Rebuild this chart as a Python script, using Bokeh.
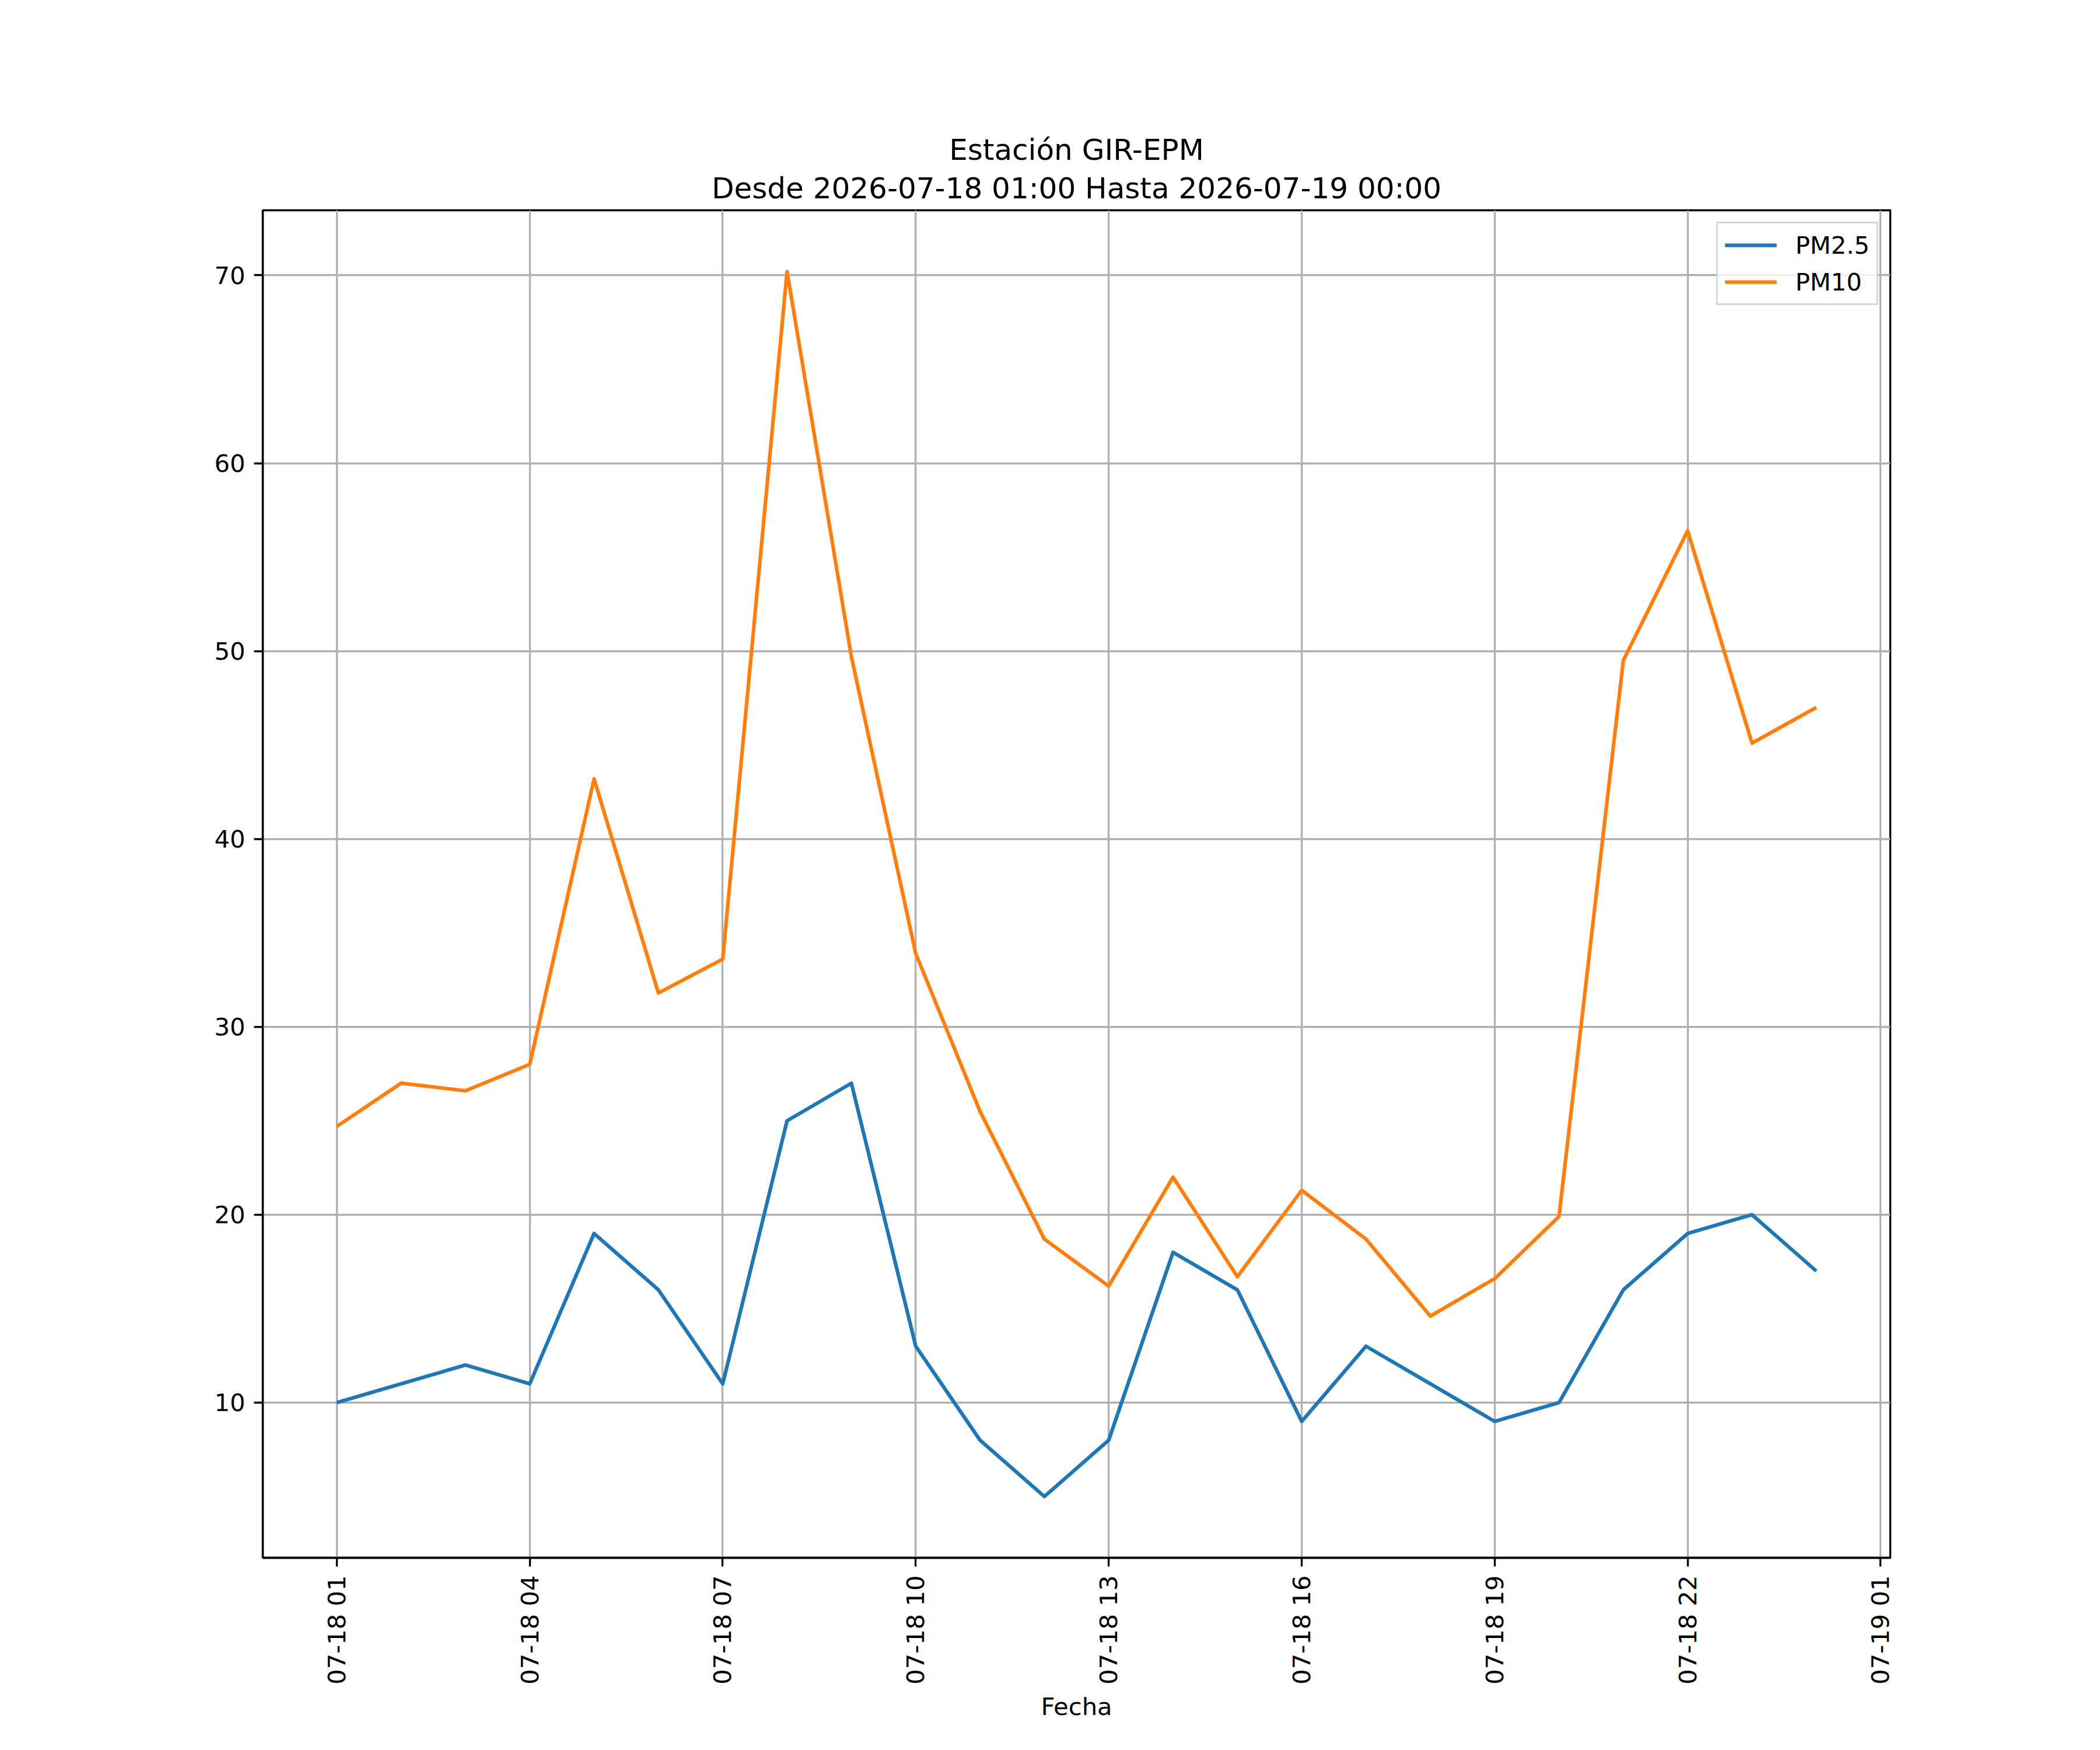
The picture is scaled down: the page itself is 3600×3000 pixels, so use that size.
import pandas as pd
from bokeh.plotting import figure
from bokeh.models import Range1d, FixedTicker, DatetimeTickFormatter, Title
from bokeh.embed import file_html
from bokeh.resources import INLINE

times = [
    "2026-07-18 01:00", "2026-07-18 02:00", "2026-07-18 03:00", "2026-07-18 04:00",
    "2026-07-18 05:00", "2026-07-18 06:00", "2026-07-18 07:00", "2026-07-18 08:00",
    "2026-07-18 09:00", "2026-07-18 10:00", "2026-07-18 11:00", "2026-07-18 12:00",
    "2026-07-18 13:00", "2026-07-18 14:00", "2026-07-18 15:00", "2026-07-18 16:00",
    "2026-07-18 17:00", "2026-07-18 18:00", "2026-07-18 19:00", "2026-07-18 20:00",
    "2026-07-18 21:00", "2026-07-18 22:00", "2026-07-18 23:00", "2026-07-19 00:00",
]
pm25 = [10, 11, 12, 11, 19, 16, 11, 25, 27, 13, 8, 5, 8, 18, 16, 9, 13, 11, 9, 10, 16, 19, 20, 17]
pm10 = [24.7, 27.0, 26.6, 28.0, 43.2, 31.8, 33.6, 70.2, 49.7, 33.9, 25.5, 18.7,
        16.2, 22.0, 16.7, 21.3, 18.7, 14.6, 16.6, 19.9, 49.5, 56.4, 45.1, 47.0]
x_tick_times = [
    "2026-07-18 01:00", "2026-07-18 04:00", "2026-07-18 07:00", "2026-07-18 10:00",
    "2026-07-18 13:00", "2026-07-18 16:00", "2026-07-18 19:00", "2026-07-18 22:00",
    "2026-07-19 01:00",
]
y_ticks = [10, 20, 30, 40, 50, 60, 70]
series_names = ["PM2.5", "PM10"]
title_line1 = "Estación GIR-EPM"
title_line2 = "Desde 2026-07-18 01:00 Hasta 2026-07-19 00:00"
x_label = "Fecha"

FONT = "DejaVu Sans"
TICK_FS = "41.67px"
TITLE_FS = "50px"

t = pd.to_datetime(times)
span = t.max() - t.min()
x_start = t.min() - 0.05 * span
x_end = t.max() + 0.05 * span
all_vals = pm25 + pm10
vmin, vmax = min(all_vals), max(all_vals)
vpad = 0.05 * (vmax - vmin)
tick_ms = [pd.Timestamp(s).value // 10**6 for s in x_tick_times]

p = figure(
    frame_width=2790, frame_height=2310,
    x_axis_type="datetime",
    x_range=Range1d(x_start, x_end),
    y_range=Range1d(vmin - vpad, vmax + vpad),
    output_backend="svg", toolbar_location=None,
    min_border_left=450, min_border_right=344,
    min_border_top=360, min_border_bottom=314,
    background_fill_color="white", border_fill_color="white",
)

# Titles: the later-added title sits next to the frame, the default one above it
p.title.text = title_line1
p.title.align = "center"
p.title.text_font = FONT
p.title.text_font_size = TITLE_FS
p.title.text_font_style = "normal"
p.title.text_color = "black"
p.title.standoff = -4
t2 = Title(text=title_line2, align="center", text_font=FONT, text_font_size=TITLE_FS,
           text_font_style="normal", text_color="black", standoff=17)
p.add_layout(t2, "above")

colors = ["#1f77b4", "#ff7f0e"]
for vals, name, c in zip([pm25, pm10], series_names, colors):
    p.line(t, vals, line_color=c, line_width=6.25, legend_label=name,
           line_join="round", line_cap="butt")

# Axes
p.xaxis.ticker = FixedTicker(ticks=tick_ms)
fmt = "%m-%d %H"
p.xaxis.formatter = DatetimeTickFormatter(
    microseconds=fmt, milliseconds=fmt, seconds=fmt, minsec=fmt, minutes=fmt,
    hourmin=fmt, hours=fmt, days=fmt, months=fmt, years=fmt)
p.xaxis.major_label_orientation = 3.14159265 / 2
p.yaxis.ticker = FixedTicker(ticks=y_ticks)
p.xaxis.axis_label = x_label

for ax in [p.xaxis, p.yaxis]:
    ax.major_label_text_font = FONT
    ax.major_label_text_font_size = TICK_FS
    ax.major_label_text_color = "black"
    ax.major_tick_in = 0
    ax.major_tick_out = 15
    ax.major_tick_line_width = 3.33
    ax.major_tick_line_color = "black"
    ax.minor_tick_line_color = None
    ax.axis_line_color = "black"
    ax.axis_line_width = 3.33
    ax.major_label_standoff = 15
    ax.axis_label_text_font = FONT
    ax.axis_label_text_font_size = TICK_FS
    ax.axis_label_text_font_style = "normal"
    ax.axis_label_text_color = "black"
    ax.axis_label_standoff = 10

p.xgrid.grid_line_color = "#b0b0b0"
p.ygrid.grid_line_color = "#b0b0b0"
p.xgrid.grid_line_width = 3.33
p.ygrid.grid_line_width = 3.33

p.outline_line_color = "black"
p.outline_line_width = 3.33
p.outline_line_alpha = 1.0

# Legend
lg = p.legend[0]
lg.location = "top_right"
lg.margin = 20
lg.padding = 12
lg.spacing = 13
lg.label_height = 50
lg.glyph_height = 50
lg.glyph_width = 89
lg.label_standoff = 32
lg.label_text_font = FONT
lg.label_text_font_size = TICK_FS
lg.label_text_color = "black"
lg.border_line_color = "#cccccc"
lg.border_line_width = 3.3
lg.border_line_alpha = 0.8
lg.background_fill_alpha = 0.8

open("out.html", "w").write(file_html(p, INLINE))
